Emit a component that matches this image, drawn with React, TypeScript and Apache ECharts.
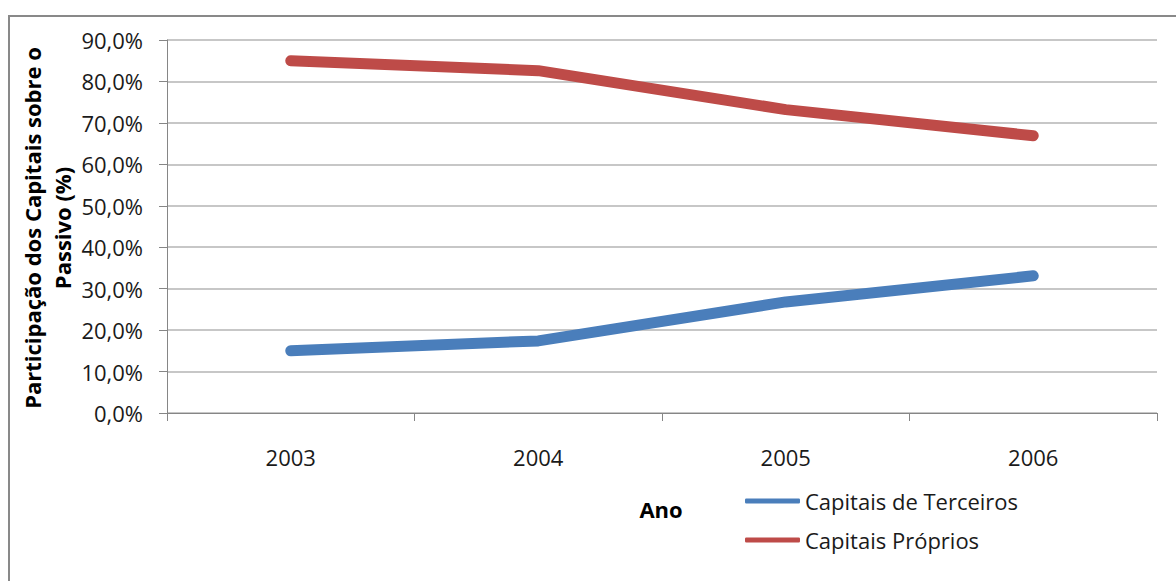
import React, { useEffect, useRef } from "react";
import * as echarts from "echarts";

// Participação dos capitais na composição do passivo, por ano
const years = ["2003", "2004", "2005", "2006"];
const capitaisTerceiros = [15.0, 17.4, 26.8, 33.1];
const capitaisProprios = [85.0, 82.6, 73.2, 66.9];
const seriesNames = ["Capitais de Terceiros", "Capitais Próprios"];
const yTicks = { min: 0, max: 90, interval: 10 };

const FONT = "'Open Sans', 'Noto Sans', sans-serif";
const AXIS_GREY = "#868686";
const GRID_GREY = "#B4B4B4";

export default function App() {
  const ref = useRef<HTMLDivElement>(null);

  useEffect(() => {
    if (!ref.current) return;
    const chart = echarts.init(ref.current, undefined, { renderer: "svg" });
    chart.setOption({
      animation: false,
      backgroundColor: "#ffffff",
      grid: { left: 167, right: 19, top: 40, bottom: 168, containLabel: false },
      xAxis: {
        type: "category",
        data: years,
        boundaryGap: true,
        axisLine: { lineStyle: { color: AXIS_GREY, width: 1 } },
        axisTick: { show: true, length: 8, lineStyle: { color: AXIS_GREY } },
        axisLabel: { margin: 33, fontFamily: FONT, fontSize: 22, color: "#1a1a1a" },
      },
      yAxis: {
        type: "value",
        min: yTicks.min,
        max: yTicks.max,
        interval: yTicks.interval,
        axisLine: { show: true, lineStyle: { color: AXIS_GREY, width: 1 } },
        axisTick: { show: true, length: 8, lineStyle: { color: AXIS_GREY } },
        splitLine: { lineStyle: { color: GRID_GREY, width: 1.5 } },
        axisLabel: {
          margin: 24,
          fontFamily: FONT,
          fontSize: 22,
          color: "#1a1a1a",
          formatter: (v: number) => v.toFixed(1).replace(".", ",") + "%",
        },
      },
      legend: {
        orient: "vertical",
        left: 745,
        top: 490,
        padding: 0,
        itemWidth: 55,
        itemHeight: 5,
        itemGap: 17,
        icon: "roundRect",
        data: seriesNames,
        textStyle: {
          fontFamily: FONT,
          fontSize: 22,
          lineHeight: 22,
          color: "#1a1a1a",
          padding: [0, 0, 0, 0],
        },
      },
      series: [
        {
          name: seriesNames[0],
          type: "line",
          data: capitaisTerceiros,
          symbol: "none",
          color: "#4A7EBB",
          lineStyle: { width: 11, color: "#4A7EBB", cap: "round", join: "round" },
        },
        {
          name: seriesNames[1],
          type: "line",
          data: capitaisProprios,
          symbol: "none",
          color: "#BE4B48",
          lineStyle: { width: 11, color: "#BE4B48", cap: "round", join: "round" },
        },
      ],
      graphic: [
        {
          type: "rect",
          shape: { x: 9, y: 16, width: 1300, height: 700 },
          style: { fill: "none", stroke: "#898989", lineWidth: 2 },
          silent: true,
        },
        {
          type: "text",
          x: 47,
          y: 228,
          rotation: Math.PI / 2,
          style: {
            text: "Participação dos Capitais sobre o\nPassivo (%)",
            fontFamily: FONT,
            fontWeight: "bold",
            fontSize: 22,
            lineHeight: 30,
            fill: "#000000",
            align: "center",
            verticalAlign: "middle",
          },
        },
        {
          type: "text",
          x: 661,
          y: 509,
          style: {
            text: "Ano",
            fontFamily: FONT,
            fontWeight: "bold",
            fontSize: 22,
            fill: "#000000",
            align: "center",
            verticalAlign: "middle",
          },
        },
      ],
    });
    return () => chart.dispose();
  }, []);

  return (
    <div
      ref={ref}
      style={{ position: "fixed", left: 0, top: 0, width: 1176, height: 581, background: "#fff" }}
    />
  );
}
